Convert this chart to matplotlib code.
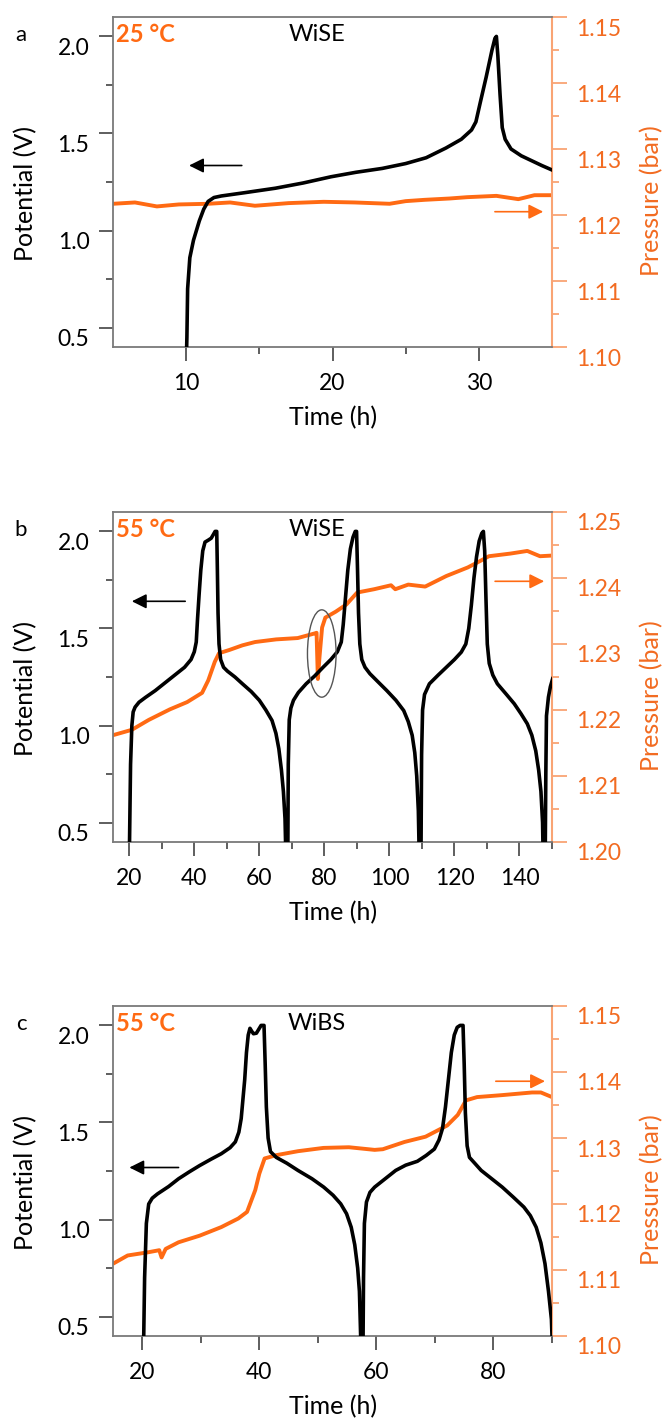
import numpy as np
import matplotlib.pyplot as plt
import matplotlib.transforms as mtransforms
from matplotlib.patches import Ellipse

plt.rcParams['font.family'] = ['Lato', 'DejaVu Sans']

ORANGE = '#ff6a13'
ORANGE_TXT = '#f26b21'
ORANGE_AX = '#f9a474'
GREY = '#7a7a7a'

# ---- panel a : 25 °C, WiSE ----
t_va = [10.0, 10.05, 10.1, 10.25, 10.5, 10.9, 11.2, 11.5, 11.9, 12.4, 14.0, 16.1,
        18.0, 19.9, 21.6, 23.4, 25.0, 26.4, 27.75, 28.8, 29.5, 29.8, 30.1, 30.5,
        30.9, 31.1, 31.2, 31.3, 31.45, 31.6, 31.8, 32.2, 32.9, 33.6, 34.3, 35.0]
v_a = [0.30, 0.45, 0.70, 0.86, 0.95, 1.05, 1.11, 1.15, 1.17, 1.178, 1.195, 1.218,
       1.245, 1.277, 1.30, 1.32, 1.345, 1.375, 1.425, 1.47, 1.518, 1.56, 1.66, 1.79,
       1.93, 1.99, 2.0, 1.9, 1.7, 1.53, 1.47, 1.42, 1.385, 1.36, 1.335, 1.312]
t_pa = [5.0, 6.5, 8.0, 9.5, 11.5, 13.0, 14.7, 17.0, 19.4, 21.5, 23.9, 25.0,
        26.3, 28.0, 29.2, 31.2, 32.7, 33.8, 35.0]
p_a = [1.1217, 1.1219, 1.1213, 1.1216, 1.1217, 1.1219, 1.1214, 1.1218, 1.1220,
       1.1219, 1.1217, 1.1221, 1.1223, 1.1225, 1.1227, 1.1229, 1.1224, 1.1230, 1.1230]

# ---- panel b : 55 °C, WiSE ----
t_vb = [20.0, 20.1, 20.4, 20.8, 21.2, 21.8, 23.0, 25, 28, 31, 34, 37, 39, 40.0,
        40.6, 41.0, 41.5, 42.0, 42.6, 43.3, 44.3, 45.2, 45.9, 46.4, 46.9, 47.1,
        47.3, 47.6, 48.1, 49, 50.2, 52.5, 54.8, 57.5, 60, 62, 63.9, 65.1, 66.0,
        66.8, 67.4, 67.9, 68.2,
        68.75, 68.9, 69.2, 69.7, 70.5, 72, 74.4, 77, 79.6, 82, 84, 85.2, 85.8,
        86.5, 87.2, 88.0, 88.8, 89.5, 89.9, 90.2, 90.5, 90.9, 91.5, 92.5, 94,
        96.5, 99.2, 102, 104.4, 105.8, 107.0, 107.8, 108.4, 108.9, 109.2,
        109.7, 109.9, 110.2, 110.8, 112.3, 115, 117.5, 120, 122.1, 123.5, 124.4,
        125.2, 126, 126.8, 127.6, 128.4, 128.9, 129.3, 129.7, 130.1, 130.7, 131.8,
        133.2, 136, 138.4, 140.5, 142.4, 143.8, 145.0, 145.9, 146.6, 147.1, 147.3,
        147.9, 148.1, 148.3, 148.9, 149.5, 150.2]
v_b = [0.30, 0.42, 0.80, 1.00, 1.07, 1.095, 1.12, 1.145, 1.18, 1.22, 1.26, 1.30,
       1.34, 1.38, 1.43, 1.55, 1.68, 1.80, 1.90, 1.945, 1.955, 1.965, 1.985, 2.0,
       2.0, 1.80, 1.58, 1.42, 1.34, 1.30, 1.28, 1.25, 1.215, 1.175, 1.13, 1.08,
       1.026, 0.96, 0.88, 0.77, 0.66, 0.52, 0.30,
       0.30, 0.80, 1.03, 1.09, 1.13, 1.17, 1.215, 1.255, 1.30, 1.34, 1.38, 1.43,
       1.52, 1.66, 1.80, 1.91, 1.97, 2.0, 2.0, 1.80, 1.58, 1.42, 1.34, 1.30,
       1.267, 1.225, 1.18, 1.13, 1.077, 1.02, 0.95, 0.86, 0.74, 0.56, 0.30,
       0.30, 0.85, 1.08, 1.16, 1.215, 1.26, 1.30, 1.34, 1.378, 1.42, 1.50, 1.62,
       1.76, 1.87, 1.95, 1.99, 2.0, 1.9, 1.65, 1.42, 1.32, 1.26, 1.215, 1.16,
       1.112, 1.06, 1.009, 0.95, 0.87, 0.77, 0.66, 0.50, 0.30,
       0.30, 0.75, 1.05, 1.146, 1.20, 1.241]
t_pb = [15.1, 20.8, 26.0, 32.5, 37.8, 42.4, 44.3, 46.3, 47.6, 50.8, 54.8, 58.7,
        65.2, 71.8, 77.0, 77.6, 78.0, 78.5, 79.3, 80.3, 83.5, 86.8, 90.1, 95.3,
        100.5, 101.8, 105.8, 111.0, 117.5, 124.1, 128.0, 130.6, 137.2, 142.4,
        146.3, 150.0]
p_b = [1.2162, 1.2170, 1.2185, 1.2201, 1.2212, 1.2226, 1.2245, 1.2273, 1.2286,
       1.2291, 1.2298, 1.2303, 1.2307, 1.2309, 1.2316, 1.2317, 1.2247, 1.2280,
       1.2325, 1.2340, 1.2349, 1.2360, 1.2378, 1.2383, 1.2389, 1.2383, 1.2390,
       1.2387, 1.2403, 1.2416, 1.2426, 1.2433, 1.2437, 1.2441, 1.2433, 1.2434]

# ---- panel c : 55 °C, WiBS ----
t_vc = [20.2, 20.4, 20.7, 21.1, 21.7, 22.6, 24.5, 26.2, 28, 29.8, 31.7, 33.5, 35.0,
        35.9, 36.5, 36.9, 37.2, 37.5, 37.8, 38.1, 38.4, 38.7, 39.0, 39.5, 40.0,
        40.3, 40.8, 41.0, 41.2, 41.5, 41.9, 42.9, 44.7, 46.6, 49, 51, 52.6, 53.9,
        54.9, 55.7, 56.3, 56.8, 57.1, 57.4,
        57.7, 57.8, 57.95, 58.3, 58.9, 59.7, 61.5, 63.3, 65, 67, 68.5, 69.9, 70.7,
        71.3, 71.8, 72.3, 72.8, 73.3, 73.8, 74.3, 74.8, 75.0, 75.2, 75.5, 75.9,
        76.8, 77.9, 79.7, 81.5, 83.4, 85.2, 86.3, 87.3, 88.1, 88.8, 89.4, 89.9, 90.0]
v_c = [0.30, 0.70, 0.98, 1.08, 1.11, 1.132, 1.17, 1.21, 1.245, 1.278, 1.31, 1.339,
       1.37, 1.40, 1.45, 1.52, 1.62, 1.72, 1.86, 1.95, 1.985, 1.97, 1.957, 1.96,
       1.985, 2.0, 2.0, 1.80, 1.58, 1.42, 1.35, 1.32, 1.29, 1.253, 1.21, 1.167,
       1.125, 1.081, 1.03, 0.96, 0.87, 0.75, 0.63, 0.30,
       0.30, 0.70, 0.98, 1.09, 1.14, 1.167, 1.21, 1.253, 1.28, 1.30, 1.33, 1.363,
       1.41, 1.47, 1.58, 1.72, 1.86, 1.95, 1.99, 2.0, 2.0, 1.80, 1.55, 1.38, 1.32,
       1.29, 1.253, 1.21, 1.167, 1.115, 1.064, 1.02, 0.96, 0.88, 0.773, 0.63,
       0.486, 0.40]
t_pc = [15.3, 17.5, 21.1, 22.9, 23.3, 24.0, 26.2, 29.8, 33.5, 36.4, 37.9, 39.3,
        40.0, 40.9, 42.9, 46.6, 50.96, 55.3, 59.7, 61.1, 64.8, 68.4, 72.1, 73.9,
        75.3, 77.2, 81.5, 86.6, 88.1, 90.0]
p_c = [1.1111, 1.1122, 1.1127, 1.1130, 1.1119, 1.1132, 1.1142, 1.1152, 1.1165,
       1.1178, 1.1188, 1.1221, 1.1246, 1.1269, 1.1274, 1.1280, 1.1285, 1.1286,
       1.1282, 1.1283, 1.1294, 1.1302, 1.1319, 1.1335, 1.1357, 1.1362, 1.1365,
       1.1369, 1.1369, 1.1362]

panels = [
    dict(letter='a', temp='25 °C', name='WiSE', tv=t_va, v=v_a, tp=t_pa, p=p_a,
         xlim=(5, 35), xmaj=[10, 20, 30], xmin=[15, 25], plim=(1.10, 1.15),
         pticks=[1.10, 1.11, 1.12, 1.13, 1.14, 1.15], top=17,
         varrow=((13.8, 1.335), (10.2, 1.335)), parrow=((31.1, 1.1205), (34.4, 1.1205))),
    dict(letter='b', temp='55 °C', name='WiSE', tv=t_vb, v=v_b, tp=t_pb, p=p_b,
         xlim=(15, 150), xmaj=[20, 40, 60, 80, 100, 120, 140],
         xmin=[30, 50, 70, 90, 110, 130, 150], plim=(1.20, 1.25),
         pticks=[1.20, 1.21, 1.22, 1.23, 1.24, 1.25], top=512,
         varrow=((37.2, 1.64), (20.8, 1.64)), parrow=((132.5, 1.2395), (147.6, 1.2395))),
    dict(letter='c', temp='55 °C', name='WiBS', tv=t_vc, v=v_c, tp=t_pc, p=p_c,
         xlim=(15, 90), xmaj=[20, 40, 60, 80], xmin=[30, 50, 70, 90],
         plim=(1.10, 1.15), pticks=[1.10, 1.11, 1.12, 1.13, 1.14, 1.15], top=1006,
         varrow=((26.2, 1.268), (17.8, 1.268)), parrow=((80.4, 1.1386), (88.8, 1.1386))),
]

W, H = 665, 1419
fig = plt.figure(figsize=(W / 100, H / 100), dpi=100)
down = mtransforms.ScaledTranslation(0, -0.10, fig.dpi_scale_trans)

for pn in panels:
    top = pn['top']
    ax = fig.add_axes([113 / W, 1 - (top + 330) / H, 439 / W, 330 / H])
    ax2 = ax.twinx()

    ax.plot(pn['tv'], pn['v'], color='black', lw=2.6, zorder=3,
            solid_joinstyle='round')
    ax2.plot(pn['tp'], pn['p'], color=ORANGE, lw=2.8, zorder=2,
             solid_joinstyle='round')
    ax.set_zorder(ax2.get_zorder() + 1)
    ax.patch.set_visible(False)

    ax.set_xlim(*pn['xlim'])
    ax.set_ylim(0.4, 2.1)
    ax2.set_ylim(*pn['plim'])

    ax.set_xticks(pn['xmaj'])
    ax.set_xticks(pn['xmin'], minor=True)
    ax.set_yticks([0.5, 1.0, 1.5, 2.0])
    ax.set_yticks([0.75, 1.25, 1.75], minor=True)
    ax.set_yticklabels(['0.5', '1.0', '1.5', '2.0'])
    ax2.set_yticks(pn['pticks'])
    ax2.set_yticks([v + 0.005 for v in pn['pticks'][:-1]], minor=True)
    ax2.set_yticklabels(['%.2f' % v for v in pn['pticks']])

    for s in ['left', 'bottom', 'top']:
        ax.spines[s].set_color(GREY)
        ax.spines[s].set_linewidth(1.3)
    ax.spines['right'].set_visible(False)
    for s in ['left', 'bottom', 'top']:
        ax2.spines[s].set_visible(False)
    ax2.spines['right'].set_color(ORANGE_AX)
    ax2.spines['right'].set_linewidth(1.5)

    ax.tick_params(which='major', direction='out', length=10, width=1.1,
                   color='#333333', labelsize=16.5, pad=7)
    ax.tick_params(which='minor', direction='out', length=5, width=1.1, color='#333333')
    ax.tick_params(axis='x', pad=9)
    ax2.tick_params(which='major', direction='out', length=10.5, width=1.3,
                    color=ORANGE_AX, labelcolor=ORANGE_TXT, labelsize=16.5, pad=7)
    ax2.tick_params(which='minor', direction='out', length=5, width=1.3, color=ORANGE_AX)

    # the original tick labels sit slightly below their ticks
    for tk in ax.yaxis.get_major_ticks():
        tk.label1.set_transform(tk.label1.get_transform() + down)
    for tk in ax2.yaxis.get_major_ticks():
        tk.label2.set_transform(tk.label2.get_transform() + down)

    ax.set_ylabel('Potential (V)', fontsize=18, va='center')
    ax.yaxis.set_label_coords(-0.20, 0.464)
    ax2.set_ylabel('Pressure (bar)', fontsize=18, color=ORANGE_TXT, va='center')
    ax2.yaxis.set_label_coords(1.228, 0.445)
    ax.set_xlabel('Time (h)', fontsize=18, va='center')
    ax.xaxis.set_label_coords(0.501, -0.215)

    ax.text(0.006, 0.947, pn['temp'], transform=ax.transAxes, color=ORANGE,
            fontsize=17, fontweight='bold', ha='left', va='center')
    ax.text(0.465, 0.947, pn['name'], transform=ax.transAxes, color='black',
            fontsize=17, ha='center', va='center')
    fig.text(21 / W, 1 - (top + 18) / H, pn['letter'], fontsize=16,
             ha='center', va='center')

    (x0, y0), (x1, y1) = pn['varrow']
    ax.annotate('', xy=(x1, y1), xytext=(x0, y0),
                arrowprops=dict(arrowstyle='-|>', color='black', lw=1.2,
                                mutation_scale=22, shrinkA=0, shrinkB=0))
    (x0, y0), (x1, y1) = pn['parrow']
    ax2.annotate('', xy=(x1, y1), xytext=(x0, y0),
                 arrowprops=dict(arrowstyle='-|>', color=ORANGE, lw=1.2,
                                 mutation_scale=22, shrinkA=0, shrinkB=0))

    if pn['letter'] == 'b':
        ax.add_patch(Ellipse((79.2, 1.371), 8.8, 0.45, fill=False,
                             edgecolor='#555555', lw=1.0, zorder=4))

fig.savefig('out.png', dpi=100)
